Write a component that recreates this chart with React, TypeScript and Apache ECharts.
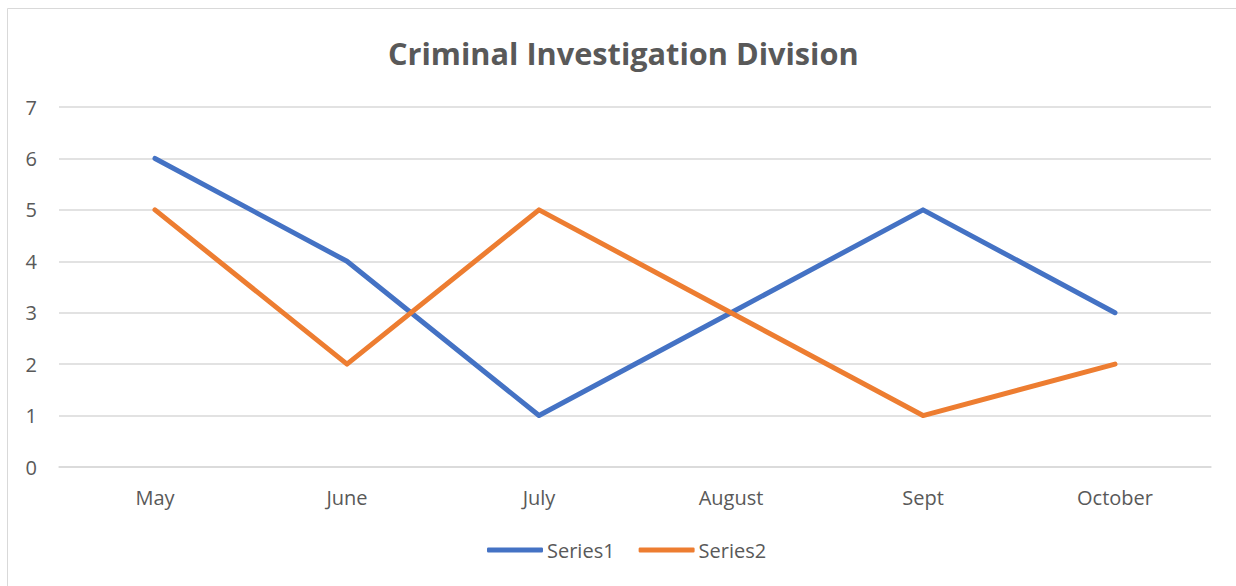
import React, { useEffect, useRef } from "react";
import * as echarts from "echarts";

const categories = ["May", "June", "July", "August", "Sept", "October"];
const series1 = [6, 4, 1, 3, 5, 3];
const series2 = [5, 2, 5, 3, 1, 2];
const yMin = 0;
const yMax = 7;
const yInterval = 1;

export default function App() {
  const ref = useRef<HTMLDivElement>(null);
  useEffect(() => {
    if (!ref.current) return;
    const chart = echarts.init(ref.current, undefined, { renderer: "svg" });
    const font = "'Open Sans', 'Noto Sans', sans-serif";
    chart.setOption({
      animation: false,
      backgroundColor: "#ffffff",
      textStyle: { fontFamily: font },
      title: {
        text: "Criminal Investigation Division",
        left: 383,
        top: 32,
        textStyle: { fontSize: 30.7, fontWeight: "bold", color: "#595959", fontFamily: font },
      },
      graphic: [
        {
          type: "rect",
          shape: { x: 7.5, y: 8.5, width: 1300, height: 700 },
          style: { fill: "none", stroke: "#d9d9d9", lineWidth: 1 },
          silent: true,
        },
      ],
      legend: {
        bottom: 21,
        left: 482,
        icon: "roundRect",
        itemWidth: 56,
        itemHeight: 5,
        itemGap: 24,
        textStyle: { fontSize: 20, color: "#595959", fontFamily: font, padding: [0, 0, 0, -1] },
        data: ["Series1", "Series2"],
      },
      grid: { left: 59, right: 25, top: 107, bottom: 119, containLabel: false },
      xAxis: {
        type: "category",
        data: categories,
        boundaryGap: true,
        axisLine: { show: true, lineStyle: { color: "#d9d9d9", width: 1.5 } },
        axisTick: { show: false },
        axisLabel: { fontSize: 20, color: "#595959", margin: 20, fontFamily: font },
      },
      yAxis: {
        type: "value",
        min: yMin,
        max: yMax,
        interval: yInterval,
        axisLine: { show: false },
        axisTick: { show: false },
        splitLine: { lineStyle: { color: "#d9d9d9", width: 1.5 } },
        axisLabel: { fontSize: 20, color: "#595959", margin: 22, fontFamily: font },
      },
      series: [
        {
          name: "Series1",
          type: "line",
          data: series1,
          symbol: "none",
          lineStyle: { color: "#4472C4", width: 5, cap: "round", join: "round" },
          itemStyle: { color: "#4472C4" },
        },
        {
          name: "Series2",
          type: "line",
          data: series2,
          symbol: "none",
          lineStyle: { color: "#ED7D31", width: 5, cap: "round", join: "round" },
          itemStyle: { color: "#ED7D31" },
        },
      ],
    });
    return () => chart.dispose();
  }, []);
  return (
    <div
      ref={ref}
      style={{ position: "absolute", left: 0, top: 0, width: 1236, height: 586 }}
    />
  );
}
